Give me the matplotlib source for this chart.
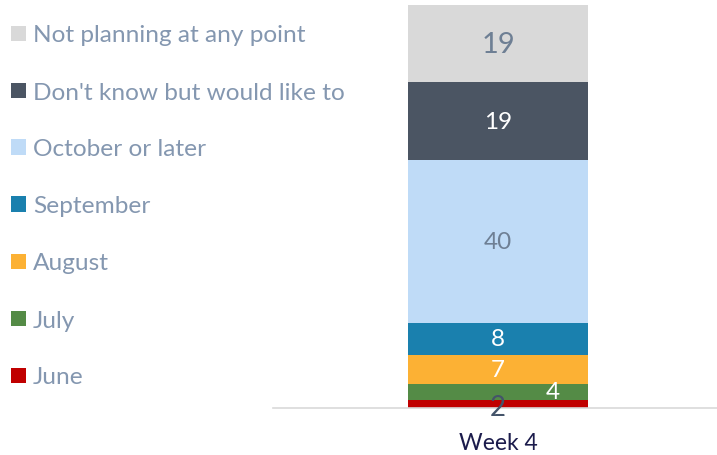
import matplotlib
matplotlib.use("Agg")
import matplotlib.pyplot as plt
from matplotlib.patches import Rectangle

categories = ["Week 4"]
series = ["June", "July", "August", "September", "October or later",
          "Don't know but would like to", "Not planning at any point"]
values = [2, 4, 7, 8, 40, 19, 19]
colors = ["#c00000", "#548b46", "#fcb134", "#1a80ae", "#bfdbf7", "#4b5563", "#d9d9d9"]
label_colors = ["#44546a", "white", "white", "white", "#6e7f94", "white", "#6e7f94"]

plt.rcParams['font.family'] = ['Lato', 'DejaVu Sans']

W, H = 717, 456
fig = plt.figure(figsize=(W/100, H/100), dpi=100)
ax = fig.add_axes([273/W, 1-409/H, 444/W, 403/H])

bottom = 0
bw = 0.81
for v, c, lc, name in zip(values, colors, label_colors, series):
    ax.bar(0, v, bottom=bottom, width=bw, color=c, label=name)
    if name == "Not planning at any point":
        fs = 21
    elif name == "June":
        fs = 20
    else:
        fs = 17.5
    if name == "June":
        ax.text(0, bottom + 0.3, str(v), ha='center', va='center', color=lc, fontsize=fs)
    elif name == "July":
        ax.text(0.2475, bottom + v/2, str(v), ha='center', va='center', color=lc, fontsize=fs)
    else:
        ax.text(0, bottom + v/2, str(v), ha='center', va='center', color=lc, fontsize=fs)
    bottom += v

ax.set_xlim(-1.014, 0.986)
ax.set_ylim(0, sum(values))
for s in ["top", "right", "left"]:
    ax.spines[s].set_visible(False)
ax.spines["bottom"].set_color("#d9d9d9")
ax.spines["bottom"].set_linewidth(1.2)
ax.set_yticks([])
ax.set_xticks([0])
ax.set_xticklabels(categories, fontsize=16.5, color="#1c1c4c")
ax.tick_params(axis='x', length=0, pad=17)

# legend (top to bottom: reversed series order)
y0, dy = 34, 57
for i, (name, c) in enumerate(zip(series[::-1], colors[::-1])):
    yc = y0 + i*dy
    fig.patches.append(Rectangle((11/W, 1-(yc+7.5)/H), 15/W, 15/H,
                                 transform=fig.transFigure, facecolor=c, edgecolor='none'))
    fig.text(33/W, 1-yc/H, name, ha='left', va='center_baseline', fontsize=17.6, color="#8497b0")

fig.savefig("out.png", dpi=100)
